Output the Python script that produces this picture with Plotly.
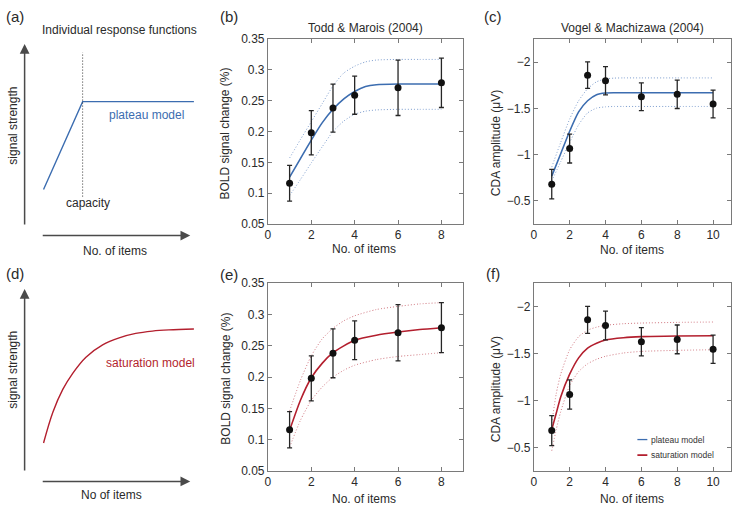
import plotly.graph_objects as go

W, H = 732, 513

# ---------------- data ----------------
# Todd & Marois (2004)
tm_items = [1, 2, 3, 4, 6, 8]
tm_bold = [0.116, 0.198, 0.238, 0.259, 0.271, 0.279]
tm_err = [0.029, 0.036, 0.039, 0.031, 0.045, 0.040]

tm_plat_x = [1, 1.5, 2, 2.5, 3, 3.5, 4, 4.5, 5, 6, 7, 8]
tm_plat_fit = [0.126, 0.156, 0.186, 0.214, 0.236, 0.253, 0.265, 0.273, 0.276, 0.277, 0.277, 0.277]
tm_plat_hi = [0.157, 0.187, 0.216, 0.245, 0.274, 0.295, 0.306, 0.313, 0.316, 0.317, 0.317, 0.317]
tm_plat_lo = [0.096, 0.122, 0.149, 0.175, 0.200, 0.217, 0.228, 0.233, 0.235, 0.236, 0.236, 0.236]

tm_sat_x = [1, 1.5, 2, 2.5, 3, 3.5, 4, 5, 6, 7, 8]
tm_sat_fit = [0.115, 0.163, 0.199, 0.222, 0.239, 0.250, 0.259, 0.267, 0.272, 0.276, 0.279]
tm_sat_hi = [0.146, 0.195, 0.234, 0.261, 0.278, 0.290, 0.298, 0.308, 0.313, 0.317, 0.319]
tm_sat_lo = [0.088, 0.131, 0.163, 0.184, 0.200, 0.211, 0.219, 0.228, 0.233, 0.236, 0.239]

# Vogel & Machizawa (2004)
vm_items = [1, 2, 3, 4, 6, 8, 10]
vm_cda = [-0.68, -1.065, -1.86, -1.80, -1.627, -1.652, -1.547]
vm_err = [0.16, 0.156, 0.143, 0.153, 0.15, 0.153, 0.15]

vm_plat_x = [1, 1.5, 2, 2.5, 3, 3.5, 4, 4.5, 5, 6, 8, 10]
vm_plat_fit = [-0.767, -1.010, -1.253, -1.462, -1.583, -1.649, -1.667, -1.670, -1.670, -1.670, -1.670, -1.670]
vm_plat_hi = [-0.865, -1.132, -1.385, -1.583, -1.712, -1.788, -1.819, -1.828, -1.830, -1.830, -1.830, -1.830]
vm_plat_lo = [-0.715, -0.924, -1.132, -1.323, -1.451, -1.503, -1.517, -1.521, -1.521, -1.521, -1.521, -1.521]

vm_sat_x = [1, 1.25, 1.5, 2, 2.5, 3, 3.5, 4, 5, 6, 8, 10]
vm_sat_fit = [-0.691, -0.865, -1.038, -1.281, -1.455, -1.559, -1.611, -1.646, -1.670, -1.681, -1.688, -1.691]
vm_sat_hi = [-0.76, -1.073, -1.281, -1.542, -1.681, -1.750, -1.782, -1.802, -1.819, -1.826, -1.833, -1.837]
vm_sat_lo = [-0.465, -0.691, -0.882, -1.160, -1.309, -1.392, -1.440, -1.472, -1.507, -1.524, -1.535, -1.542]

# Schematic response functions (arbitrary units)
plateau_x = [1, 3.6, 11]
plateau_y = [1, 4, 4]
capacity_x = [3.6, 3.6]
capacity_y = [0.76, 5.68]
sat_x = [1.0, 1.62, 2.28, 2.94, 3.82, 4.93, 6.03, 7.13, 8.24, 9.34, 11.0]
sat_y = [1.0, 2.05, 2.83, 3.38, 3.93, 4.35, 4.59, 4.74, 4.82, 4.86, 4.89]

# ticks
bold_ticks = [0.05, 0.1, 0.15, 0.2, 0.25, 0.3, 0.35]
bold_tick_text = ["0.05", "0.1", "0.15", "0.2", "0.25", "0.3", "0.35"]
cda_ticks = [-2, -1.5, -1, -0.5]
cda_tick_text = ["\u22122", "\u22121.5", "\u22121", "\u22120.5"]
tm_xticks = [0, 2, 4, 6, 8]
vm_xticks = [0, 2, 4, 6, 8, 10]

# ---------------- style ----------------
BLUE = "#3c6db0"
BLUE_CI = "#7f9fcf"
RED = "#b31f2e"
RED_CI = "#d27a83"
FONT = "Liberation Sans, Arial, sans-serif"
AX = "#7a7a7a"
TXT = "#2a2a2a"
FS = 12


def xd(p0, p1):
    return [p0 / W, p1 / W]


def yd(top, bottom):
    return [1 - bottom / H, 1 - top / H]


def px(x):
    return x / W


def py(y):
    return 1 - y / H


fig = go.Figure()


def add_panel(xa, ya, fx, fit, hi, lo, color, ci_color, dx, dy, de):
    for yy in (hi, lo):
        fig.add_trace(go.Scatter(x=fx, y=yy, mode="lines", xaxis=xa, yaxis=ya,
                                 line=dict(color=ci_color, width=1, dash="1px,2px", shape="spline", smoothing=0.6),
                                 showlegend=False, hoverinfo="skip"))
    fig.add_trace(go.Scatter(x=fx, y=fit, mode="lines", xaxis=xa, yaxis=ya,
                             line=dict(color=color, width=1.6, shape="spline", smoothing=0.6),
                             showlegend=False))
    fig.add_trace(go.Scatter(x=dx, y=dy, mode="markers", xaxis=xa, yaxis=ya,
                             marker=dict(color="#111111", size=7),
                             error_y=dict(type="data", array=de, color="#262626", thickness=1.3, width=2.5),
                             showlegend=False))


add_panel("x", "y", tm_plat_x, tm_plat_fit, tm_plat_hi, tm_plat_lo, BLUE, BLUE_CI, tm_items, tm_bold, tm_err)
add_panel("x2", "y2", vm_plat_x, vm_plat_fit, vm_plat_hi, vm_plat_lo, BLUE, BLUE_CI, vm_items, vm_cda, vm_err)
add_panel("x3", "y3", tm_sat_x, tm_sat_fit, tm_sat_hi, tm_sat_lo, RED, RED_CI, tm_items, tm_bold, tm_err)
add_panel("x4", "y4", vm_sat_x, vm_sat_fit, vm_sat_hi, vm_sat_lo, RED, RED_CI, vm_items, vm_cda, vm_err)

# schematics
fig.add_trace(go.Scatter(x=plateau_x, y=plateau_y, mode="lines", xaxis="x5", yaxis="y5",
                         line=dict(color=BLUE, width=1.4), showlegend=False))
fig.add_trace(go.Scatter(x=capacity_x, y=capacity_y, mode="lines", xaxis="x5", yaxis="y5",
                         line=dict(color="#333333", width=1, dash="1px,2px"), showlegend=False))
fig.add_trace(go.Scatter(x=sat_x, y=sat_y, mode="lines", xaxis="x6", yaxis="y6",
                         line=dict(color=RED, width=1.4, shape="spline"), showlegend=False))

common_ax = dict(showline=True, linecolor=AX, linewidth=1, mirror="ticks", ticks="inside",
                 ticklen=4, tickcolor=AX, showgrid=False, zeroline=False,
                 tickfont=dict(size=FS, color=TXT, family=FONT))

# schematic axis mapping: px = 25.6 + 15.1*x ; y: 30.13 px per unit
sx_range = [(20 - 25.6) / 15.1, (200 - 25.6) / 15.1]
sa_range = [(217.8 - 245) / 30.13, (217.8 - 30) / 30.13]
sd_range = [(478.4 - 495) / 30.13, (478.4 - 280) / 30.13]

fig.update_layout(
    width=W, height=H, margin=dict(l=0, r=0, t=0, b=0),
    paper_bgcolor="white", plot_bgcolor="white",
    font=dict(family=FONT, color=TXT, size=FS),
    showlegend=False,
    xaxis=dict(domain=xd(266, 462), range=[0, 9], tickvals=tm_xticks, anchor="y", **common_ax),
    yaxis=dict(domain=yd(33, 223), range=[0.05, 0.35], tickvals=bold_ticks, ticktext=bold_tick_text, anchor="x", **common_ax),
    xaxis2=dict(domain=xd(533, 731), range=[0, 11], tickvals=vm_xticks, anchor="y2", **common_ax),
    yaxis2=dict(domain=yd(33, 223), range=[-0.25, -2.25], tickvals=cda_ticks, ticktext=cda_tick_text, anchor="x2", **common_ax),
    xaxis3=dict(domain=xd(266, 462), range=[0, 9], tickvals=tm_xticks, anchor="y3", **common_ax),
    yaxis3=dict(domain=yd(284, 477), range=[0.05, 0.35], tickvals=bold_ticks, ticktext=bold_tick_text, anchor="x3", **common_ax),
    xaxis4=dict(domain=xd(533, 731), range=[0, 11], tickvals=vm_xticks, anchor="y4", **common_ax),
    yaxis4=dict(domain=yd(284, 477), range=[-0.25, -2.25], tickvals=cda_ticks, ticktext=cda_tick_text, anchor="x4", **common_ax),
    xaxis5=dict(domain=xd(20, 200), range=sx_range, visible=False, anchor="y5"),
    yaxis5=dict(domain=yd(30, 245), range=sa_range, visible=False, anchor="x5"),
    xaxis6=dict(domain=xd(20, 200), range=sx_range, visible=False, anchor="y6"),
    yaxis6=dict(domain=yd(280, 495), range=sd_range, visible=False, anchor="x6"),
)

ann = []


def text(x, y, s, size=FS, color=TXT, angle=0, xanchor="center"):
    ann.append(dict(x=px(x), y=py(y), xref="paper", yref="paper", text=s, showarrow=False,
                    font=dict(size=size, color=color, family=FONT), textangle=angle,
                    xanchor=xanchor, yanchor="middle"))


def arrow(hx, hy, ax, ay):
    ann.append(dict(x=px(hx), y=py(hy), xref="paper", yref="paper", ax=ax, ay=ay,
                    axref="pixel", ayref="pixel", text="", showarrow=True,
                    arrowhead=2, arrowsize=1.3, arrowwidth=1.5, arrowcolor="#4a4a4a", standoff=0))


# panel letters
text(12, 10, "(a)", 15)
text(227, 10, "(b)", 15)
text(492, 10, "(c)", 15)
text(12, 274, "(d)", 15)
text(227, 275, "(e)", 15)
text(492, 274, "(f)", 15)

# schematic (a)
text(117, 24, "Individual response functions")
text(144, 111, "plateau model", color=BLUE)
text(85, 201, "capacity")
text(10, 122, "signal strength", angle=-90)
text(112, 251, "No. of items")
arrow(21.7, 38, 0, 182)
arrow(188, 235, -149, 0)

# schematic (d)
text(148, 366, "saturation model", color=RED)
text(10, 373, "signal strength", angle=-90)
text(109, 502, "No of items")
arrow(21.7, 290, 0, 183)
arrow(188, 487.7, -149, 0)

# panel titles and axis titles
text(364, 22, "Todd &amp; Marois (2004)")
text(632, 22, "Vogel &amp; Machizawa (2004)")
text(362, 249, "No. of items")
text(632, 250, "No. of items")
text(362, 506, "No. of items")
text(632, 506, "No. of items")
text(223, 130, "BOLD signal change (%)", angle=-90)
text(223, 382, "BOLD signal change (%)", angle=-90)
text(495, 140, "CDA amplitude (\u03bcV)", angle=-90)
text(495, 393, "CDA amplitude (\u03bcV)", angle=-90)

# legend (f)
text(649, 444.7, "plateau model", 8.5, "#333333", xanchor="left")
text(649, 460.7, "saturation model", 8.5, "#333333", xanchor="left")

fig.update_layout(annotations=ann, shapes=[
    dict(type="line", xref="paper", yref="paper", x0=px(637), x1=px(647), y0=py(444.7), y1=py(444.7),
         line=dict(color=BLUE, width=1.3)),
    dict(type="line", xref="paper", yref="paper", x0=px(637), x1=px(647), y0=py(460.7), y1=py(460.7),
         line=dict(color=RED, width=1.8)),
])

# remove the browser's default 8px page margin so the figure sits at the window origin
fig.write_html("out.html", config={"displayModeBar": False},
               post_script="document.body.style.margin='0';")
